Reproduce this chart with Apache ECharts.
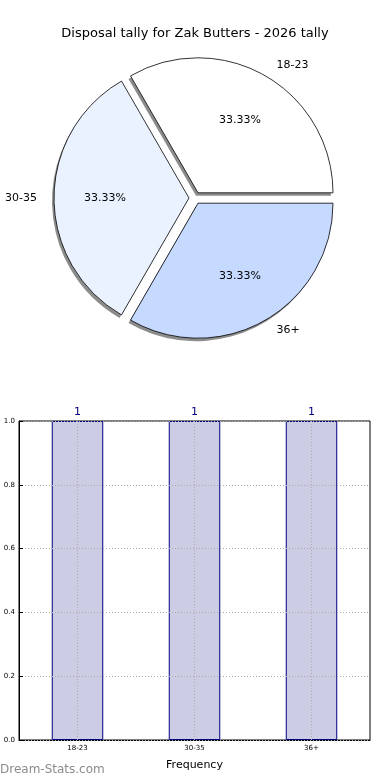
<!DOCTYPE html>
<html>
<head>
<meta charset="utf-8">
<script src="https://cdn.jsdelivr.net/npm/echarts@6/dist/echarts.min.js"></script>
<style>
html,body{margin:0;padding:0;background:#fff;}
#c{width:390px;height:780px;}
</style>
</head>
<body>
<div id="c"></div>
<script>
const titleText = 'Disposal tally for Zak Butters - 2026 tally';
const pieCategories = ['18-23', '30-35', '36+'];
const pieValues = [1, 1, 1];
const pieColors = ['#ffffff', '#ebf2ff', '#c6d9ff'];
const barCategories = ['18-23', '30-35', '36+'];
const barValues = [1, 1, 1];
const yMin = 0, yMax = 1, yStep = 0.2;
const xAxisTitle = 'Frequency';
const watermark = 'Dream-Stats.com';

const chart = echarts.init(document.getElementById('c'), null, {renderer: 'canvas'});
const FONT = 'DejaVu Sans';
const total = pieValues.reduce((a, b) => a + b, 0);
const R = 135;
const CX = 195, CY = 198;

const pieBase = {
  type: 'pie',
  center: [CX, CY],
  startAngle: 0,
  clockwise: false,
  selectedMode: 'multiple',
  selectedOffset: 6,
  animation: false,
  silent: true,
  emphasis: {disabled: true}
};

const option = {
  animation: false,
  title: {
    text: titleText,
    left: 'center',
    top: 22,
    textStyle: {fontFamily: FONT, fontSize: 13, fontWeight: 'normal', color: '#000'}
  },
  grid: {
    left: 19, right: 20, top: 421, bottom: 40,
    show: true, borderColor: '#000', borderWidth: 1, backgroundColor: 'transparent'
  },
  xAxis: {
    type: 'category',
    data: barCategories,
    boundaryGap: true,
    axisLine: {show: true, lineStyle: {color: '#000'}},
    axisTick: {show: true, inside: true, alignWithLabel: true, length: 4, lineStyle: {color: '#000'}},
    axisLabel: {fontFamily: FONT, fontSize: 7, color: '#000', margin: 5},
    name: xAxisTitle,
    nameLocation: 'middle',
    nameGap: 20,
    nameTextStyle: {fontFamily: FONT, fontSize: 11, color: '#000'},
    splitLine: {show: false}
  },
  yAxis: {
    type: 'value',
    min: yMin, max: yMax, interval: yStep,
    z: 5,
    axisLine: {show: true, lineStyle: {color: '#000'}},
    axisTick: {show: true, inside: true, length: 4, lineStyle: {color: '#000'}},
    axisLabel: {fontFamily: FONT, fontSize: 7, color: '#000', margin: 4, formatter: v => v.toFixed(1)},
    splitLine: {show: true, lineStyle: {color: '#aaaaaa', type: [1, 2], width: 1}}
  },
  series: [
    // shadow layer
    Object.assign({}, pieBase, {
      center: [CX - 2, CY + 3],
      radius: [0, R],
      z: 1,
      data: pieCategories.map((c, i) => ({name: c, value: pieValues[i], selected: true})),
      itemStyle: {color: 'rgba(0,0,0,0.45)', borderWidth: 0},
      label: {show: false},
      labelLine: {show: false}
    }),
    Object.assign({}, pieBase, {
      radius: [0, R],
      z: 2,
      data: pieCategories.map((c, i) => ({
        name: c, value: pieValues[i], selected: true,
        itemStyle: {color: pieColors[i]}
      })),
      itemStyle: {borderColor: '#000', borderWidth: 0.8},
      label: {
        show: true, position: 'outside', formatter: '{b}',
        alignTo: 'none', overflow: 'none', bleedMargin: 0,
        fontFamily: FONT, fontSize: 11, color: '#000'
      },
      labelLine: {show: false, length: 12, length2: 0}
    }),
    Object.assign({}, pieBase, {
      radius: [Math.round(R * 0.2), R],
      z: 3,
      data: pieCategories.map((c, i) => ({name: c, value: pieValues[i], selected: true})),
      itemStyle: {color: 'rgba(0,0,0,0)', borderWidth: 0},
      label: {
        show: true, position: 'inside',
        formatter: p => (p.value / total * 100).toFixed(2) + '%',
        fontFamily: FONT, fontSize: 11, color: '#000'
      },
      labelLine: {show: false}
    }),
    {
      type: 'bar',
      data: barValues,
      barWidth: '44%',
      z: 2,
      itemStyle: {color: '#ccccE5', borderColor: '#000080', borderWidth: 1},
      label: {
        show: true, position: 'top', distance: 3,
        fontFamily: FONT, fontSize: 11, color: '#000080'
      },
      markLine: {
        silent: true,
        symbol: 'none',
        label: {show: false},
        lineStyle: {color: '#aaaaaa', type: [1, 2], width: 1},
        z: 6,
        data: barCategories.map(c => ({xAxis: c}))
      }
    }
  ],
  graphic: [{
    type: 'text',
    left: 0,
    top: 764,
    style: {text: watermark, fontFamily: FONT, fontSize: 12, fontWeight: 'normal', fill: '#8c8c8c'}
  }]
};
chart.setOption(option);
</script>
</body>
</html>
